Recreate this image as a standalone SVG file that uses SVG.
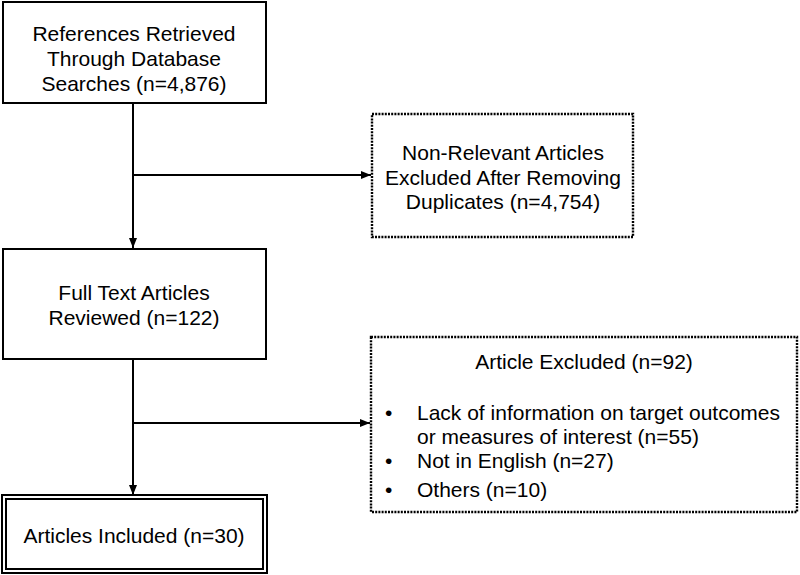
<svg xmlns="http://www.w3.org/2000/svg" width="800" height="575" viewBox="0 0 800 575">
<defs>
<style>
.box{fill:#fff;stroke:#000;stroke-width:2}
.dot{fill:#fff;stroke:#000;stroke-width:2.4;stroke-dasharray:2 1.2}
.t{font-family:"Liberation Sans",Arial,sans-serif;font-size:21px;fill:#000}
.c{text-anchor:middle}
.ln{stroke:#000;stroke-width:2;fill:none}
</style>
<marker id="ah" viewBox="0 0 10 10" refX="10" refY="5" markerWidth="10" markerHeight="10" markerUnits="userSpaceOnUse" orient="auto">
<path d="M0,1 L10,5 L0,9 Z" fill="#000"/>
</marker>
</defs>
<rect width="800" height="575" fill="#fff"/>
<g id="connectors">
<line class="ln" x1="133" y1="103" x2="133" y2="248" marker-end="url(#ah)"/>
<line class="ln" x1="133" y1="175" x2="371" y2="175" marker-end="url(#ah)"/>
<line class="ln" x1="133" y1="359" x2="133" y2="495" marker-end="url(#ah)"/>
<line class="ln" x1="133" y1="423" x2="370" y2="423" marker-end="url(#ah)"/>
</g>
<g id="n1">
<rect class="box" x="3" y="2" width="263" height="101"/>
<text class="t c" x="134" y="41">References Retrieved</text>
<text class="t c" x="134" y="66">Through Database</text>
<text class="t c" x="134" y="91">Searches (n=4,876)</text>
</g>
<g id="n2">
<rect class="dot" x="372" y="114" width="261" height="123"/>
<text class="t c" x="503" y="160">Non-Relevant Articles</text>
<text class="t c" x="503" y="185">Excluded After Removing</text>
<text class="t c" x="503" y="209">Duplicates (n=4,754)</text>
</g>
<g id="n3">
<rect class="box" x="3" y="249" width="263" height="110"/>
<text class="t c" x="134" y="300">Full Text Articles</text>
<text class="t c" x="134" y="325">Reviewed (n=122)</text>
</g>
<g id="n4">
<rect class="dot" x="371" y="337" width="426" height="175"/>
<text class="t c" x="584" y="369">Article Excluded (n=92)</text>
<text class="t" x="385" y="420">•</text>
<text class="t" x="417" y="420">Lack of information on target outcomes</text>
<text class="t" x="417" y="444">or measures of interest (n=55)</text>
<text class="t" x="385" y="468">•</text>
<text class="t" x="417" y="468">Not in English (n=27)</text>
<text class="t" x="385" y="497">•</text>
<text class="t" x="417" y="497">Others (n=10)</text>
</g>
<g id="n5">
<rect class="box" x="2" y="495" width="265" height="78"/>
<rect class="box" x="6" y="499" width="257" height="70"/>
<text class="t c" x="134" y="543">Articles Included (n=30)</text>
</g>
</svg>
